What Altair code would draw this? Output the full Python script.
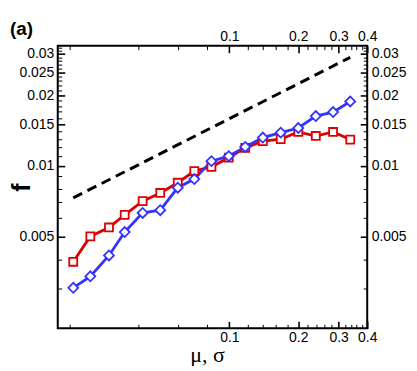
import altair as alt
import pandas as pd

# data
x_vals = [0.0208, 0.0247, 0.0298, 0.0349, 0.0418, 0.0499, 0.0595, 0.0703, 0.0835,
          0.0994, 0.1173, 0.1400, 0.1676, 0.2000, 0.2385, 0.2838, 0.3373]
red_vals = [0.00390, 0.00500, 0.00546, 0.00618, 0.00707, 0.00766, 0.00847, 0.00950, 0.00990,
            0.01083, 0.01192, 0.01273, 0.01298, 0.01394, 0.01340, 0.01394, 0.01294]
blue_vals = [0.00302, 0.00338, 0.00415, 0.00522, 0.00630, 0.00647, 0.00807, 0.00878, 0.01047,
             0.01099, 0.01204, 0.01319, 0.01385, 0.01449, 0.01629, 0.01694, 0.01880]
dash_x = [0.0208, 0.3373]
dash_y = [0.0073, 0.0290]

x_major = [0.1, 0.2, 0.3, 0.4]
x_minor = [0.02, 0.04, 0.06, 0.08, 0.12, 0.14, 0.16, 0.18, 0.22, 0.24, 0.26, 0.28,
           0.32, 0.34, 0.36, 0.38]
y_major = [0.005, 0.01, 0.015, 0.02, 0.025, 0.03]
y_minor = [0.003, 0.004, 0.006, 0.007, 0.008, 0.009, 0.011, 0.012, 0.013, 0.014,
           0.016, 0.017, 0.018, 0.019, 0.021, 0.022, 0.023, 0.024, 0.026, 0.027,
           0.028, 0.029, 0.031, 0.032]

red_df = pd.DataFrame({"x": x_vals, "f": red_vals})
blue_df = pd.DataFrame({"x": x_vals, "f": blue_vals})
dash_df = pd.DataFrame({"x": dash_x, "f": dash_y})

RED = "#dd0000"
BLUE = "#3333ff"
SANS = "Liberation Sans"

xs = alt.Scale(type="log", domain=[0.0178, 0.4], nice=False)
ys = alt.Scale(type="log", domain=[0.00203, 0.0325], nice=False)


def major_axis(orient, values, pad, title=None, **kw):
    return alt.Axis(orient=orient, values=values, format="~g", offset=-7, tickSize=7,
                    tickWidth=1.6, tickColor="black", domain=False, grid=False,
                    labelPadding=pad, labelFont=SANS, labelFontSize=14, labelColor="black",
                    labelFlush=False, labelOverlap=False, title=title, **kw)


def minor_axis(orient, values):
    return alt.Axis(orient=orient, values=values, offset=-4, tickSize=4, tickWidth=1,
                    tickColor="black", domain=False, grid=False, labels=False, title=None)


ax_bottom = major_axis("bottom", x_major, 2, "μ, σ", titleFont="Liberation Serif",
                       titleFontSize=22, titleFontWeight="normal", titleColor="black",
                       titlePadding=0, titleX=150)
ay_left = major_axis("left", y_major, 4, "f", titleFont=SANS, titleFontSize=25,
                     titleFontWeight="bold", titleColor="black", titlePadding=-16)
ax_top = major_axis("top", x_major, 2)
ay_right = major_axis("right", y_major, 4)

dash = alt.Chart(dash_df).mark_line(color="black", strokeWidth=3, strokeDash=[10, 6]).encode(
    x=alt.X("x:Q", scale=xs, axis=ax_bottom),
    y=alt.Y("f:Q", scale=ys, axis=ay_left),
)
red_line = alt.Chart(red_df).mark_line(color=RED, strokeWidth=2.8).encode(
    x=alt.X("x:Q", scale=xs, axis=ax_top),
    y=alt.Y("f:Q", scale=ys, axis=ay_right),
)
blue_line = alt.Chart(blue_df).mark_line(color=BLUE, strokeWidth=2.8).encode(
    x=alt.X("x:Q", scale=xs, axis=minor_axis("bottom", x_minor)),
    y=alt.Y("f:Q", scale=ys, axis=minor_axis("left", y_minor)),
)
red_pts = alt.Chart(red_df).mark_point(shape="square", size=64, fill="white", fillOpacity=1,
                                       stroke=RED, strokeWidth=1.8, opacity=1).encode(
    x=alt.X("x:Q", scale=xs, axis=minor_axis("top", x_minor)),
    y=alt.Y("f:Q", scale=ys, axis=minor_axis("right", y_minor)),
)
blue_pts = alt.Chart(blue_df).mark_point(shape="diamond", size=100, fill="white", fillOpacity=1,
                                         stroke=BLUE, strokeWidth=1.8, opacity=1).encode(
    x=alt.X("x:Q", scale=xs, axis=None),
    y=alt.Y("f:Q", scale=ys, axis=None),
)

chart = alt.layer(dash, red_line, blue_line, red_pts, blue_pts).resolve_axis(
    x="independent", y="independent"
).properties(
    width=311, height=284,
    padding={"left": 1, "top": 11, "right": 2, "bottom": 0},
    title=alt.TitleParams("(a)", anchor="start", frame="bounds", fontSize=19,
                          fontWeight="bold", font=SANS, color="black", offset=-9),
).configure_view(stroke="black", strokeWidth=2)

chart.save("out.html", embed_options={"renderer": "svg", "actions": False})
